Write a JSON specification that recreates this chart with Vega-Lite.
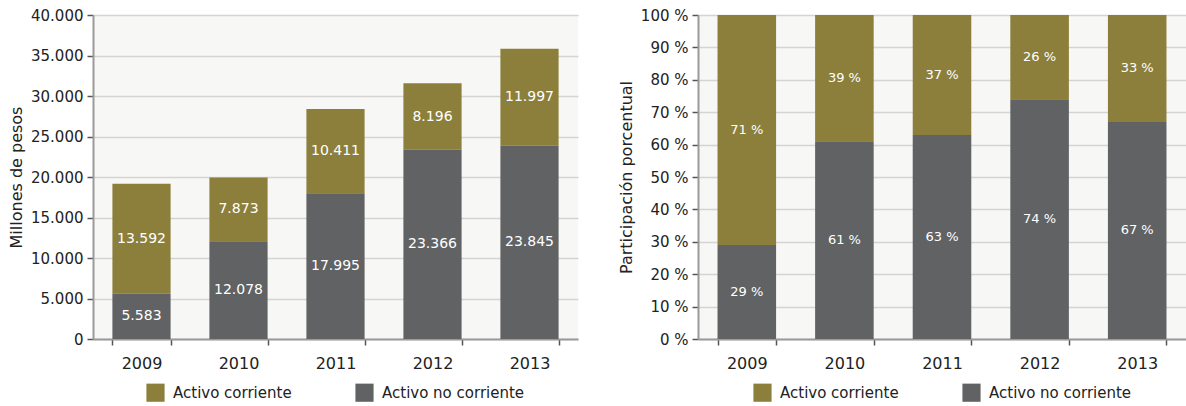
{
  "$schema": "https://vega.github.io/schema/vega-lite/v6.json",
  "padding": {"left": 8, "top": 8, "right": 0, "bottom": 0},
  "spacing": 40,
  "data": {"values": [
    {"year": "2009", "series": "Activo corriente", "value": 13592, "pct": 71},
    {"year": "2009", "series": "Activo no corriente", "value": 5583, "pct": 29},
    {"year": "2010", "series": "Activo corriente", "value": 7873, "pct": 39},
    {"year": "2010", "series": "Activo no corriente", "value": 12078, "pct": 61},
    {"year": "2011", "series": "Activo corriente", "value": 10411, "pct": 37},
    {"year": "2011", "series": "Activo no corriente", "value": 17995, "pct": 63},
    {"year": "2012", "series": "Activo corriente", "value": 8196, "pct": 26},
    {"year": "2012", "series": "Activo no corriente", "value": 23366, "pct": 74},
    {"year": "2013", "series": "Activo corriente", "value": 11997, "pct": 33},
    {"year": "2013", "series": "Activo no corriente", "value": 23845, "pct": 67}
  ]},
  "resolve": {"legend": {"color": "independent"}},
  "hconcat": [
    {
      "width": 485,
      "height": 324,
      "layer": [
        {
          "mark": {"type": "bar"},
          "encoding": {
            "x": {"field": "year", "type": "nominal", "scale": {"paddingInner": 0.4, "paddingOuter": 0.2},
                  "axis": {"title": null, "labelAngle": 0, "tickBand": "extent", "labelFontSize": 16, "labelPadding": 10}},
            "y": {"field": "value", "type": "quantitative", "aggregate": "sum", "stack": "zero",
                  "scale": {"domain": [0, 40000]},
                  "axis": {"title": "Millones de pesos", "values": [0,5000,10000,15000,20000,25000,30000,35000,40000], "format": ",.0f", "labelOverlap": false}},
            "color": {"field": "series", "type": "nominal",
                      "scale": {"domain": ["Activo corriente", "Activo no corriente"], "range": ["#8c7f3b", "#616264"]},
                      "legend": {"title": null, "orient": "bottom", "direction": "horizontal"}},
            "order": {"field": "series", "sort": "descending"}
          }
        },
        {
          "transform": [
            {"stack": "value", "groupby": ["year"], "sort": [{"field": "series", "order": "descending"}], "as": ["v0", "v1"]},
            {"fold": ["v0", "v1"], "as": ["edgeKey", "edge"]},
            {"aggregate": [{"op": "mean", "field": "edge", "as": "mid"}, {"op": "max", "field": "value", "as": "value"}], "groupby": ["year", "series"]}
          ],
          "mark": {"type": "text", "color": "white", "fontSize": 14, "baseline": "middle"},
          "encoding": {
            "x": {"field": "year", "type": "nominal"},
            "y": {"field": "mid", "type": "quantitative",
                  "axis": {"title": "Millones de pesos", "values": [0,5000,10000,15000,20000,25000,30000,35000,40000], "format": ",.0f", "labelOverlap": false}},
            "text": {"field": "value", "type": "quantitative", "format": ",.0f"}
          }
        }
      ]
    },
    {
      "width": 488,
      "height": 324,
      "layer": [
        {
          "mark": {"type": "bar"},
          "encoding": {
            "x": {"field": "year", "type": "nominal", "scale": {"paddingInner": 0.4, "paddingOuter": 0.2},
                  "axis": {"title": null, "labelAngle": 0, "tickBand": "extent", "labelFontSize": 16, "labelPadding": 10}},
            "y": {"field": "pct", "type": "quantitative", "aggregate": "sum", "stack": "zero",
                  "scale": {"domain": [0, 100]},
                  "axis": {"title": "Participación porcentual", "values": [0,10,20,30,40,50,60,70,80,90,100], "labelExpr": "datum.value + ' %'", "labelOverlap": false}},
            "color": {"field": "series", "type": "nominal",
                      "scale": {"domain": ["Activo corriente", "Activo no corriente"], "range": ["#8c7f3b", "#616264"]},
                      "legend": {"title": null, "orient": "bottom", "direction": "horizontal"}},
            "order": {"field": "series", "sort": "descending"}
          }
        },
        {
          "transform": [
            {"stack": "pct", "groupby": ["year"], "sort": [{"field": "series", "order": "descending"}], "as": ["v0", "v1"]},
            {"fold": ["v0", "v1"], "as": ["edgeKey", "edge"]},
            {"aggregate": [{"op": "mean", "field": "edge", "as": "mid"}, {"op": "max", "field": "pct", "as": "pct"}], "groupby": ["year", "series"]}
          ],
          "mark": {"type": "text", "color": "white", "fontSize": 13, "baseline": "middle", "text": {"expr": "datum.pct + ' %'"}},
          "encoding": {
            "x": {"field": "year", "type": "nominal"},
            "y": {"field": "mid", "type": "quantitative",
                  "axis": {"title": "Participación porcentual", "values": [0,10,20,30,40,50,60,70,80,90,100], "labelExpr": "datum.value + ' %'", "labelOverlap": false}}
          }
        }
      ]
    }
  ],
  "config": {
    "locale": {"number": {"decimal": ",", "thousands": ".", "grouping": [3], "currency": ["", ""]}},
    "font": "DejaVu Sans",
    "view": {"stroke": null, "fill": "#f7f7f5"},
    "axis": {
      "labelFontSize": 15, "labelColor": "#222222", "titleFontSize": 16, "titleFontWeight": "normal", "titleColor": "#222222",
      "domainColor": "#9a9a9a", "domainWidth": 2, "tickColor": "#555555", "tickWidth": 1.5, "tickSize": 6,
      "gridColor": "#d4d4d4", "gridWidth": 1.5
    },
    "axisY": {"titlePadding": 6, "labelPadding": 4},
    "axisX": {"grid": false},
    "legend": {
      "labelFontSize": 15, "labelColor": "#222222", "symbolType": "square", "symbolSize": 330,
      "symbolStrokeWidth": 0, "columnPadding": 63, "offset": 12, "labelOffset": 8, "labelLimit": 300,
      "layout": {"bottom": {"anchor": "middle"}}
    }
  }
}
